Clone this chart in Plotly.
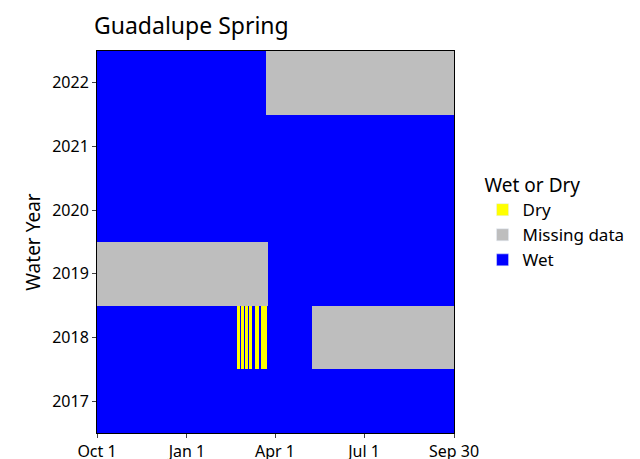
import plotly.graph_objects as go

years = [2017, 2018, 2019, 2020, 2021, 2022]
n_days = 365
tick_labels = ["Oct 1", "Jan 1", "Apr 1", "Jul 1", "Sep 30"]
tick_days = [0, 92, 182, 273, 365]
# status codes: 0 = Dry, 1 = Missing data, 2 = Wet
dry_2018 = [(143, 145), (147, 149), (151, 153), (155, 157), (162, 165), (168, 173)]
missing = {2018: [(220, 364)], 2019: [(0, 174)], 2022: [(173, 364)]}

z = []
for y in years:
    row = [2] * n_days
    for a, b in missing.get(y, []):
        for d in range(a, b + 1):
            row[d] = 1
    if y == 2018:
        for a, b in dry_2018:
            for d in range(a, b + 1):
                row[d] = 0
    z.append(row)

colors = ["#FFFF00", "#BEBEBE", "#0000FF"]
names = ["Dry", "Missing data", "Wet"]
cs = [[0, colors[0]], [0.333, colors[0]], [0.333, colors[1]], [0.666, colors[1]], [0.666, colors[2]], [1, colors[2]]]

fig = go.Figure()
fig.add_trace(go.Heatmap(z=z, x=[d + 0.5 for d in range(n_days)], y=years, zmin=-0.5, zmax=2.5,
                         colorscale=cs, showscale=False, hoverinfo="skip"))
for n, c in zip(names, colors):
    fig.add_trace(go.Bar(x=[None], y=[None], name=n, marker_color=c, showlegend=True))

fig.update_layout(
    width=640, height=459, plot_bgcolor="white", paper_bgcolor="white",
    margin=dict(l=89, r=194, t=43, b=34),
    font=dict(family="Noto Sans", size=16, color="black"),
    title=dict(text="Guadalupe Spring", x=86/640, xanchor="left", y=0.96, yanchor="middle",
               font=dict(size=23), automargin=False),
    legend=dict(title=dict(text="Wet or Dry", font=dict(size=19)), x=1.08, xanchor="left",
                y=0.55, yanchor="middle", font=dict(size=17), tracegroupgap=0, itemwidth=30),
)
fig.update_xaxes(range=[0, 365], tickvals=tick_days, ticktext=tick_labels, showgrid=False,
                 ticks="outside", ticklen=4, showline=True, linecolor="black", mirror=True,
                 zeroline=False, automargin=False)
fig.update_yaxes(range=[2016.5, 2022.5], tickvals=years, showgrid=False, ticks="outside", ticklen=4,
                 showline=True, linecolor="black", mirror=True, zeroline=False, automargin=False,
                 title=dict(text="Water Year", font=dict(size=19), standoff=6))
fig.write_html("out.html")
